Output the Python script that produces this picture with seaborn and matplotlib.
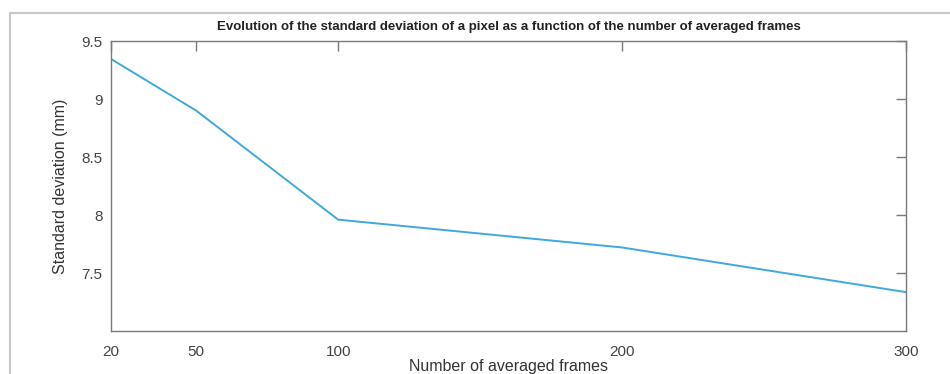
import matplotlib
matplotlib.use("Agg")
import matplotlib.pyplot as plt
import seaborn as sns
import pandas as pd
from matplotlib.lines import Line2D

frames = [20, 50, 100, 200, 300]
std_dev = [9.345, 8.90, 7.96, 7.72, 7.335]
x_ticks = [20, 50, 100, 200, 300]
y_ticks = [7.5, 8, 8.5, 9, 9.5]

sns.set_theme(style="white")
plt.rcParams['font.family'] = ['Liberation Sans', 'DejaVu Sans']

df = pd.DataFrame({"frames": frames, "std": std_dev})

fig = plt.figure(figsize=(9.5, 3.74), dpi=100)
ax = fig.add_axes([111/950, 1 - 331/374, (906-111)/950, (331-41)/374])

sns.lineplot(data=df, x="frames", y="std", ax=ax, color="#3fa9dd", linewidth=1.4)

ax.set_xlim(20, 300)
ax.set_ylim(7.0, 9.5)
ax.set_xticks(x_ticks)
ax.set_yticks(y_ticks)
ax.set_xticklabels([str(v) for v in x_ticks])
ax.set_yticklabels(["7.5", "8", "8.5", "9", "9.5"])

edge = "#7a7a7a"
for s in ax.spines.values():
    s.set_visible(True)
    s.set_color(edge)
    s.set_linewidth(1.0)
ax.tick_params(axis="both", which="both", direction="in", length=7, width=1.0,
               color=edge, top=True, right=True, labelsize=11, labelcolor="#444444")
ax.tick_params(axis="x", pad=10)
ax.tick_params(axis="y", pad=6)

ax.set_xlabel("Number of averaged frames", fontsize=11.5, color="#333333", labelpad=0)
ax.set_ylabel("Standard deviation (mm)", fontsize=11.5, color="#333333", labelpad=10)
ax.set_title("Evolution of the standard deviation of a pixel as a function of the number of averaged frames",
             fontsize=9.5, fontweight="bold", color="#222222", pad=8,
             family=['Liberation Sans Narrow', 'Liberation Sans', 'DejaVu Sans'])

# outer light gray frame
fig.add_artist(Line2D([10/950, 1], [1 - 13/374, 1 - 13/374], transform=fig.transFigure,
                      color="#c8c8c8", linewidth=1.5))
fig.add_artist(Line2D([10/950, 10/950], [0, 1 - 13/374], transform=fig.transFigure,
                      color="#c8c8c8", linewidth=1.5))

fig.savefig("out.png", dpi=100, facecolor="white")
